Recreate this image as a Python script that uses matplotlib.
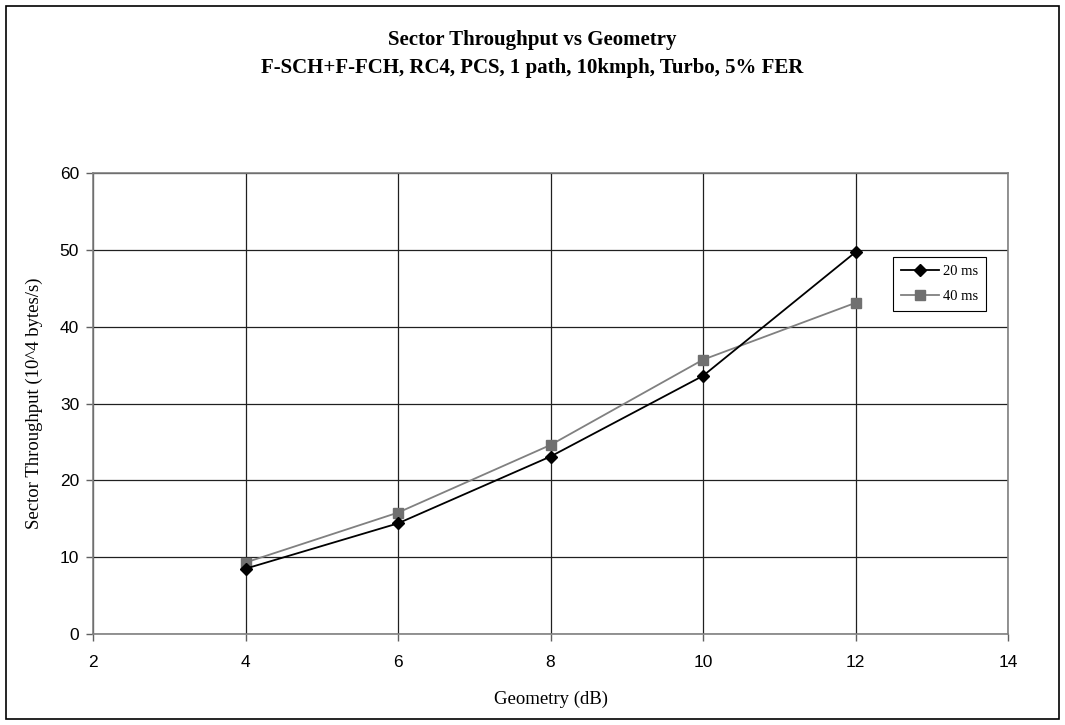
import matplotlib.pyplot as plt
from matplotlib.patches import Rectangle

# Geometry (dB) and sector throughput for each frame length
geometry = [4, 6, 8, 10, 12]
tput_20ms = [8.5, 14.4, 23.1, 33.6, 49.7]
tput_40ms = [9.3, 15.8, 24.6, 35.7, 43.1]

serif = ["Liberation Serif", "DejaVu Serif"]
sans = ["Liberation Sans", "DejaVu Sans"]

fig = plt.figure(figsize=(10.65, 7.25), dpi=100)
ax = fig.add_axes([93 / 1065, 1 - 634 / 725, 915 / 1065, 461 / 725])

ax.plot(geometry, tput_20ms, color="black", linewidth=1.3,
        marker="D", markersize=6, markerfacecolor="black",
        markeredgecolor="black", label="20 ms", zorder=4)
ax.plot(geometry, tput_40ms, color="#808080", linewidth=1.3,
        marker="s", markersize=6.5, markerfacecolor="#707070",
        markeredgecolor="#707070", label="40 ms", zorder=3)

ax.set_xlim(2, 14)
ax.set_ylim(0, 60)
ax.set_xticks(range(2, 15, 2))
ax.set_yticks(range(0, 61, 10))
ax.grid(True, color="#202020", linewidth=0.9)
ax.set_axisbelow(True)

for s in ax.spines.values():
    s.set_color("#808080")
    s.set_linewidth(1.2)

ax.tick_params(axis="both", direction="out", length=5, width=1,
               color="#606060", labelsize=12.5)
ax.tick_params(axis="x", pad=10)
ax.tick_params(axis="y", pad=5)
for lbl in ax.get_xticklabels() + ax.get_yticklabels():
    lbl.set_family(sans)

ax.set_xlabel("Geometry (dB)", family=serif, fontsize=13.5, labelpad=15)
ax.set_ylabel("Sector Throughput (10^4 bytes/s)", family=serif,
              fontsize=13.5, labelpad=12)

leg = ax.legend(loc="upper left", bbox_to_anchor=(800 / 915, 1 - (257 - 173) / 461),
                prop={"family": serif, "size": 10.5}, frameon=True,
                fancybox=False, edgecolor="black", framealpha=1,
                borderpad=0.55, handlelength=2.6, labelspacing=0.8,
                handletextpad=0.3, borderaxespad=0)
leg.get_frame().set_linewidth(0.8)

fig.text(0.5, 1 - 40 / 725, "Sector Throughput vs Geometry", ha="center",
         va="center", family=serif, fontsize=15, fontweight="bold")
fig.text(0.5, 1 - 68 / 725,
         "F-SCH+F-FCH, RC4, PCS, 1 path, 10kmph, Turbo, 5% FER",
         ha="center", va="center", family=serif, fontsize=15,
         fontweight="bold")

# thin frame around the whole chart
fig.patches.append(Rectangle((6 / 1065, 6 / 725), 1 - 12 / 1065, 1 - 12 / 725,
                             transform=fig.transFigure, fill=False,
                             edgecolor="black", linewidth=1.2))

fig.savefig("out.png", dpi=100)
